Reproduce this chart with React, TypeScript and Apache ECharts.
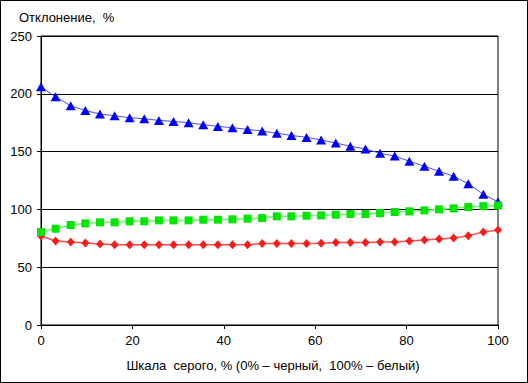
import React, { useEffect, useRef } from "react";
import * as echarts from "echarts";

const xValues = [0, 3.2, 6.5, 9.7, 12.9, 16.1, 19.4, 22.6, 25.8, 29.0, 32.3, 35.5, 38.7, 41.9, 45.2, 48.4, 51.6, 54.8, 58.1, 61.3, 64.5, 67.7, 71.0, 74.2, 77.4, 80.6, 83.9, 87.1, 90.3, 93.5, 96.8, 100];
const blueValues = [206, 197.4, 189.7, 185.6, 182.5, 181, 179.3, 178.4, 177, 176.1, 175, 173.3, 171.8, 170.7, 169.2, 167.8, 165.8, 164, 162.3, 160, 157.5, 154.6, 152.3, 148.5, 146.3, 141.6, 137.3, 133, 128.7, 122.2, 113, 106.6];
const greenValues = [80.4, 83.3, 86.5, 87.9, 88.8, 88.8, 89.7, 89.7, 90.5, 90.5, 90.5, 91.1, 91.1, 91.4, 92, 92.5, 94, 94, 94.5, 94.8, 95.4, 96, 96, 96.8, 97.7, 98.3, 99.1, 100, 100.9, 102, 102.8, 103.4];
const redValues = [77, 72.7, 71.8, 71, 70.1, 69.5, 69.5, 69.5, 69.5, 69.5, 69.5, 69.5, 69.5, 69.5, 69.5, 70.4, 70.4, 70.4, 70.4, 70.7, 71.3, 71.3, 71.3, 71.8, 71.8, 72.7, 73.5, 74.4, 75.3, 77.3, 80.4, 82.2];
const yTitle = "Отклонение,  %";
const xTitle = "Шкала  серого, % (0% – черный,  100% – белый)";

const FONT = "'Liberation Sans', Arial, sans-serif";

function pairs(vals: number[]) {
  return vals.map((v, i) => [xValues[i], v]);
}

export default function App() {
  const ref = useRef<HTMLDivElement>(null);
  useEffect(() => {
    if (!ref.current) return;
    const chart = echarts.init(ref.current, null, { renderer: "svg" });
    chart.setOption({
      animation: false,
      backgroundColor: "#ffffff",
      textStyle: { fontFamily: FONT },
      grid: {
        left: 41,
        top: 36,
        width: 457,
        height: 289,
        show: true,
        borderColor: "#000",
        borderWidth: 1,
        backgroundColor: "transparent",
      },
      graphic: [
        {
          type: "rect",
          shape: { x: 0.5, y: 0.5, width: 527, height: 382 },
          style: { fill: "none", stroke: "#000", lineWidth: 1 },
          silent: true,
          z: 100,
        },
        {
          type: "text",
          x: 19,
          y: 11,
          style: { text: yTitle, fontFamily: FONT, fontSize: 13, fill: "#000" },
        },
        {
          type: "text",
          x: 273,
          y: 359,
          style: { text: xTitle, fontFamily: FONT, fontSize: 13, fill: "#000", textAlign: "center" },
        },
      ],
      xAxis: {
        type: "value",
        min: 0,
        max: 100,
        interval: 20,
        axisLine: { show: true, lineStyle: { color: "#000", width: 1 } },
        axisTick: { show: true, length: 4, lineStyle: { color: "#000" } },
        axisLabel: { color: "#000", fontSize: 13, fontFamily: FONT, margin: 9 },
        splitLine: { show: false },
      },
      yAxis: {
        type: "value",
        min: 0,
        max: 250,
        interval: 50,
        axisLine: { show: true, lineStyle: { color: "#000", width: 1 } },
        axisTick: { show: true, length: 4, lineStyle: { color: "#000" } },
        axisLabel: { color: "#000", fontSize: 13, fontFamily: FONT, margin: 9 },
        splitLine: { show: true, lineStyle: { color: "#000", width: 1 } },
      },
      series: [
        {
          type: "line",
          data: pairs(blueValues),
          symbol: "triangle",
          symbolSize: [10, 9],
          lineStyle: { color: "#4d4dff", width: 1 },
          itemStyle: { color: "#0000ff" },
          z: 3,
        },
        {
          type: "line",
          data: pairs(greenValues),
          symbol: "rect",
          symbolSize: 8,
          lineStyle: { color: "#66ff66", width: 1.5 },
          itemStyle: { color: "#00e600" },
          z: 4,
        },
        {
          type: "line",
          data: pairs(redValues),
          symbol: "diamond",
          symbolSize: [8, 9],
          lineStyle: { color: "#ff4d4d", width: 1.5 },
          itemStyle: { color: "#ff1a1a" },
          z: 2,
        },
      ],
    });
    return () => chart.dispose();
  }, []);
  return (
    <div
      ref={ref}
      style={{ position: "fixed", left: 0, top: 0, width: 528, height: 383 }}
    />
  );
}
